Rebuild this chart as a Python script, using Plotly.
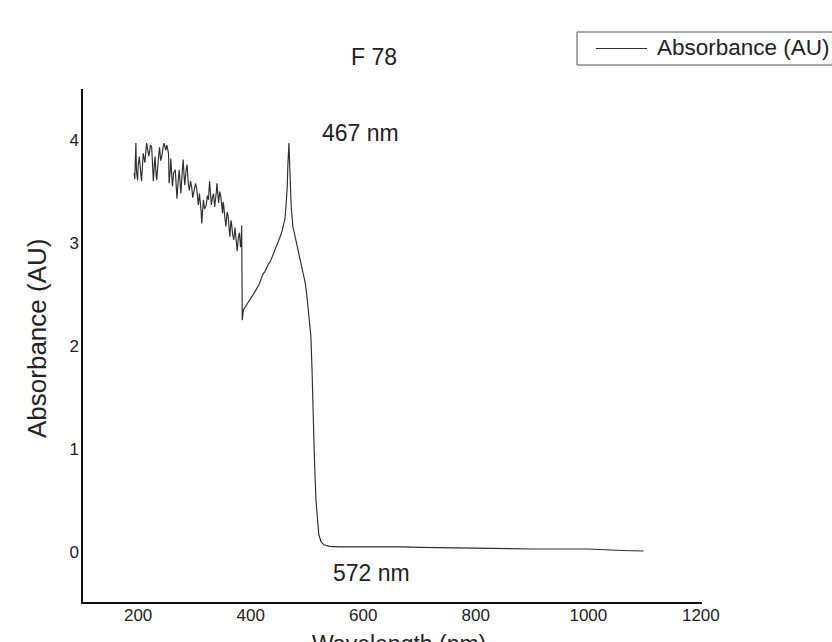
import plotly.graph_objects as go

# Spectrum
wavelength_nm = [
    193, 194, 196, 197, 199, 200, 202, 204, 206, 209, 212, 215, 217, 219, 222, 224, 226, 227, 229,
    230, 232, 233, 236, 238, 240, 242, 244, 246, 249, 251, 254, 255, 257,
    258, 260, 261, 263, 266, 268, 269, 271, 273, 275, 276, 278, 280, 282, 283, 285, 287, 289, 291,
    293, 295, 297, 299, 302, 304, 306, 307, 309, 310, 312, 313, 315, 316, 318, 321, 323,
    325, 326, 327, 329, 330, 332, 334, 336, 337, 339, 340, 342, 343, 345, 347, 349, 350, 351, 352,
    354, 356, 358, 360, 362, 363, 365, 366, 368, 370, 372, 373, 375, 376, 378, 380, 382,
    383, 384, 385, 387, 390, 395, 400, 405, 410, 415, 418, 422, 425, 428, 432, 435, 438, 442,
    446, 450, 453, 456, 459, 461, 463, 465, 466, 467, 468, 469, 470, 472, 475, 478, 482, 485,
    488, 492, 497, 500, 502, 505, 507, 509, 511, 513, 516, 519, 521, 525, 530, 540, 560, 600,
    650, 660, 670, 700, 750, 800, 900, 1000, 1030, 1060, 1098,
]
absorbance = [
    3.68, 3.62, 3.97, 3.70, 3.61, 3.75, 3.84, 3.66, 3.60, 3.87, 3.78, 3.97, 3.88, 3.84, 3.95, 3.93, 3.72, 3.60, 3.78,
    3.84, 3.66, 3.61, 3.82, 3.93, 3.80, 3.84, 3.92, 3.97, 3.90, 3.95, 3.87, 3.58, 3.70,
    3.82, 3.64, 3.55, 3.68, 3.71, 3.52, 3.43, 3.60, 3.71, 3.55, 3.48, 3.66, 3.81, 3.62, 3.56, 3.70, 3.76, 3.58, 3.51,
    3.60, 3.55, 3.44, 3.50, 3.58, 3.53, 3.45, 3.37, 3.48, 3.43, 3.30, 3.19, 3.36, 3.42, 3.33, 3.37, 3.46,
    3.42, 3.52, 3.60, 3.45, 3.37, 3.44, 3.48, 3.35, 3.39, 3.50, 3.58, 3.46, 3.39, 3.50, 3.45, 3.34, 3.29, 3.40, 3.37,
    3.25, 3.16, 3.30, 3.26, 3.12, 3.06, 3.22, 3.19, 3.08, 3.03, 3.15, 3.10, 2.98, 2.92, 3.05, 3.10, 2.96,
    3.00, 3.17, 2.25, 2.35, 2.38, 2.42, 2.46, 2.50, 2.55, 2.60, 2.64, 2.70, 2.72, 2.76, 2.80, 2.82, 2.86, 2.92,
    2.97, 3.03, 3.07, 3.12, 3.18, 3.24, 3.38, 3.55, 3.75, 3.93, 3.97, 3.80, 3.55, 3.35, 3.16, 3.08, 3.00, 2.92,
    2.83, 2.74, 2.61, 2.48, 2.38, 2.22, 2.09, 1.77, 1.30, 0.95, 0.50, 0.25, 0.17, 0.10, 0.07, 0.055, 0.05, 0.05,
    0.05, 0.055, 0.05, 0.045, 0.04, 0.035, 0.03, 0.03, 0.02, 0.015, 0.01,
]

x_ticks = [200, 400, 600, 800, 1000, 1200]
y_ticks = [0, 1, 2, 3, 4]

title_text = "F 78"
series_name = "Absorbance (AU)"
x_title = "Wavelength (nm)"
y_title = "Absorbance (AU)"
peak_labels = ["467 nm", "572 nm"]

FONT = "Liberation Sans, Arial, sans-serif"
TXT = "#222222"
LINE = "#2e2e2e"

PW, PH = 832, 642
L, R, T, B = 83, 702, 89, 602  # plot area in page pixels


def px(xp, yp):
    return (xp - L) / (R - L), (B - yp) / (B - T)


fig = go.Figure()
fig.add_trace(go.Scatter(
    x=wavelength_nm, y=absorbance, mode="lines", name=series_name,
    line=dict(color=LINE, width=1.15), showlegend=False,
))

annots = []
for txt, (xp, yp), size, ang, xa in [
    (title_text, (374, 57), 23, 0, "center"),
    (peak_labels[0], (360, 133), 23, 0, "center"),
    (peak_labels[1], (371, 573), 23, 0, "center"),
    (x_title, (399, 644), 23, 0, "center"),
    (y_title, (37, 339), 26, -90, "center"),
    (series_name, (655, 48), 22.5, 0, "left"),
]:
    xx, yy = px(xp, yp)
    annots.append(dict(
        text=txt, x=xx, y=yy, xref="paper", yref="paper", showarrow=False,
        xanchor=xa, yanchor="middle", textangle=ang,
        font=dict(family=FONT, size=size, color=TXT),
    ))

# legend drawn as box + sample line (it runs off the right edge in the reference)
bx0, by0 = px(577, 32)
bx1, by1 = px(860, 65)
lx0, ly = px(596, 48.5)
lx1, _ = px(647, 48.5)
shapes = [
    dict(type="rect", xref="paper", yref="paper", x0=bx0, y0=by1, x1=bx1, y1=by0,
         line=dict(color="#555555", width=1), fillcolor="white", layer="above"),
    dict(type="line", xref="paper", yref="paper", x0=lx0, y0=ly, x1=lx1, y1=ly,
         line=dict(color=LINE, width=1.2), layer="above"),
]

fig.update_layout(
    width=PW, height=PH,
    margin=dict(l=L, r=PW - R, t=T, b=PH - B, autoexpand=False),
    paper_bgcolor="white", plot_bgcolor="white",
    font=dict(family=FONT, size=17, color=TXT),
    showlegend=False,
    annotations=annots,
    shapes=shapes,
    xaxis=dict(
        range=[102, 1202], tickvals=x_ticks, ticktext=[str(v) for v in x_ticks],
        showgrid=False, zeroline=False, showline=True, linecolor="#111111", linewidth=2,
        ticks="", tickfont=dict(family=FONT, size=17, color=TXT), ticklabelstandoff=-3,
    ),
    yaxis=dict(
        range=[-0.485, 4.495], tickvals=y_ticks, ticktext=[str(v) for v in y_ticks],
        showgrid=False, zeroline=False, showline=True, linecolor="#111111", linewidth=1.5,
        ticks="", tickfont=dict(family=FONT, size=17, color=TXT), ticklabelstandoff=-1,
    ),
)

fig.write_html(
    "out.html",
    config={"displayModeBar": False},
    post_script="document.body.style.margin='0';document.body.style.overflow='hidden';",
)
